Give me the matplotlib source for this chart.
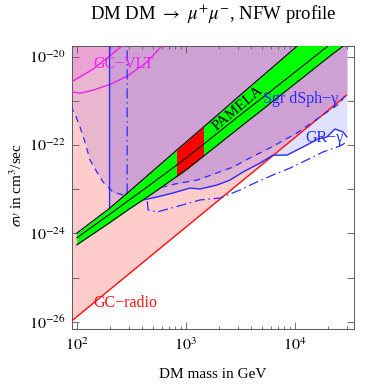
import numpy as np
import matplotlib
matplotlib.use("Agg")
import matplotlib.pyplot as plt
from matplotlib.ticker import FixedLocator, FuncFormatter, NullLocator

plt.rcParams['font.family'] = ['Liberation Serif', 'DejaVu Serif']
plt.rcParams['mathtext.fontset'] = 'stix'

# ---------------- data ----------------
# GC-radio bound (red line, excluded above)
radio_m = [90, 30000]
radio_sv = [1.05e-26, 1.35e-21]

# GC-VLT bounds (magenta)
vlt_up_m = [88, 141, 261, 355]
vlt_up_sv = [2.6e-21, 5.2e-21, 1.74e-20, 3.2e-20]
vlt_lo_m = [88, 107, 141, 202, 295, 432, 593, 700]
vlt_lo_sv = [1.6e-21, 1.48e-21, 1.74e-21, 2.34e-21, 3.7e-21, 7.2e-21, 1.66e-20, 2.8e-20]

# GR-gamma bound (solid blue)
gr_m = [200, 200, 406, 546, 764, 1094, 1352, 1936, 2547, 3357, 4808, 6324,
        8511, 10500, 11910, 16370, 19770, 23440, 27730, 30130]
gr_sv = [1e-19, 3.05e-24, 5.7e-24, 6.67e-24, 8.2e-24, 1.06e-23, 1.01e-23, 1.24e-23,
         1.61e-23, 2.45e-23, 3.9e-23, 5.9e-23, 5.9e-23, 7.7e-23, 9.0e-23, 1.37e-22,
         1.52e-22, 2.3e-22, 1.97e-22, 1.52e-22]

# Sgr dSph-gamma bound (dashed blue)
sgr_m = [88, 98.6, 107, 119, 132, 153, 174, 215, 266, 308, 557, 798, 1271,
         1936, 2716, 3890, 5930, 10500, 17060, 26060, 30500]
sgr_sv = [7.6e-22, 4.3e-22, 2.55e-22, 1.17e-22, 4.6e-23, 2.45e-23, 1.46e-23,
          8.6e-24, 7.4e-24, 8.2e-24, 1.06e-23, 1.31e-23, 1.61e-23, 2.33e-23,
          3.18e-23, 5.1e-23, 8.6e-23, 1.87e-22, 4.3e-22, 8.9e-22, 1.6e-21]

# second gamma bound (dash-dot blue)
dd_m = [290, 290, 442, 451, 546, 798, 1352, 2065, 3148, 4508, 6324, 9057,
        12970, 18200, 26060, 30130]
dd_sv = [1e-19, 6e-24, 6e-24, 3.4e-24, 3.05e-24, 3.95e-24, 5.7e-24, 6.3e-24,
         9.6e-24, 1.46e-23, 2.1e-23, 3.0e-23, 4.6e-23, 6.95e-23, 9.5e-23, 1.17e-22]

# PAMELA region (green band, central line)
pam_m = [100, 200, 300, 500, 1000, 2000, 3000, 5000, 10000, 20000, 30000]
pam_up = [1.01e-24, 3.7e-24, 8.7e-24, 2.6e-23, 1.15e-22, 5.0e-22, 1.2e-21,
          3.55e-21, 1.55e-20, 6.9e-20, 1.6e-19]
pam_mid = [7.9e-25, 2.7e-24, 5.6e-24, 1.4e-23, 5.0e-23, 1.94e-22, 4.3e-22,
           1.15e-21, 4.4e-21, 1.7e-20, 3.7e-20]
pam_lo = [5.5e-25, 1.74e-24, 3.5e-24, 8.1e-24, 2.7e-23, 1.04e-22, 2.3e-22,
          6.2e-22, 2.4e-21, 9.3e-21, 2.0e-20]
fermi_range = [830, 1450]   # red part of the band

x_ticks = [100, 1000, 10000]
x_tick_labels = [r'$10^{2}$', r'$10^{3}$', r'$10^{4}$']
y_decades = list(range(-26, -19))

TOP = 1e-19
BLUE = '#2a2aff'

# ---------------- figure ----------------
fig = plt.figure(figsize=(3.73, 3.89), dpi=100)
ax = fig.add_axes([72.3 / 373, 1 - 329 / 389, (354 - 72.3) / 373, (329 - 45.7) / 389])
ax.set_xscale('log')
ax.set_yscale('log')

# filled exclusion regions (alpha-blended)
ax.fill_between(radio_m, radio_sv, TOP, color=(1.0, 0.0, 0.0), alpha=0.2, lw=0, zorder=1)
ax.fill_between(gr_m[1:], gr_sv[1:], TOP, color=(0.0, 0.0, 1.0), alpha=0.12, lw=0, zorder=1.1)
ax.fill_between(sgr_m, sgr_sv, TOP, color=(0.3, 0.1, 0.9), alpha=0.12, lw=0, zorder=1.2)
ax.fill_between(vlt_up_m, vlt_up_sv, TOP, color=(1.0, 0.0, 1.0), alpha=0.1, lw=0, zorder=1.3)

# boundary lines
ax.plot(radio_m, radio_sv, color='#ff1010', lw=1.0, zorder=3)
ax.plot(vlt_up_m, vlt_up_sv, color='#f020f0', lw=1.0, zorder=3)
ax.plot(vlt_lo_m, vlt_lo_sv, color='#f020f0', lw=1.0, zorder=3)
ax.plot(gr_m, gr_sv, color=BLUE, lw=1.0, zorder=3)
ax.plot(sgr_m, sgr_sv, color=BLUE, lw=0.9, ls=(0, (5, 4)), zorder=3)
ax.plot(dd_m, dd_sv, color=BLUE, lw=0.9, ls=(0, (8, 3, 1.2, 3)), zorder=3)

# PAMELA band
ax.fill_between(pam_m, pam_lo, pam_up, color='#00ff00', lw=0, zorder=4)
red = ax.fill_between(pam_m, pam_lo, pam_up, color='#ff0000', lw=0, zorder=4.1)
span = ax.axvspan(fermi_range[0], fermi_range[1], alpha=0)
red.set_clip_path(span)
for arr in (pam_up, pam_mid, pam_lo):
    ax.plot(pam_m, arr, color='black', lw=0.8, zorder=5)

# labels
ax.text(141, 6.8e-21, 'GC\u2212VLT', color='#f020f0', fontsize=11.5, va='center', ha='left', zorder=6)
ax.text(5140, 1.1e-21, 'Sgr dSph\u2212\u03b3', color=BLUE, fontsize=11.5, va='center', ha='left', zorder=6)
ax.text(12450, 1.45e-22, 'GR\u2212\u03b3', color=BLUE, fontsize=11.5, va='center', ha='left', zorder=6)
ax.text(141, 2.66e-26, 'GC\u2212radio', color='#ff1010', fontsize=11.5, va='center', ha='left', zorder=6)
ax.text(3020, 6.5e-22, 'PAMELA', color='black', fontsize=11, va='center', ha='center',
        rotation=40, rotation_mode='anchor', zorder=6)

ax.set_xlim(91, 35000)
ax.set_ylim(10 ** -26.163, 10 ** -19.754)

ax.xaxis.set_major_locator(FixedLocator(x_ticks))
ax.xaxis.set_major_formatter(FuncFormatter(lambda v, p: x_tick_labels[x_ticks.index(v)] if v in x_ticks else ''))
minors = [k * 10 ** e for e in range(1, 5) for k in range(2, 10)]
ax.xaxis.set_minor_locator(FixedLocator(minors))
ax.xaxis.set_minor_formatter(FuncFormatter(lambda v, p: ''))

ax.yaxis.set_major_locator(FixedLocator([10.0 ** d for d in y_decades]))
ax.yaxis.set_major_formatter(FuncFormatter(
    lambda v, p: (r'$10^{%d}$' % int(round(np.log10(v)))) if int(round(np.log10(v))) % 2 == 0 else ''))
ax.yaxis.set_minor_locator(NullLocator())

ax.tick_params(which='both', direction='in', top=True, right=True, color='0.35',
               labelsize=11.5, width=0.6)
ax.tick_params(which='major', length=5)
ax.tick_params(which='minor', length=2.5)
ax.tick_params(axis='x', pad=6)
ax.tick_params(axis='y', pad=5)
for s in ax.spines.values():
    s.set_color('0.35')
    s.set_linewidth(0.7)

fig.text(213 / 373, 1 - 14 / 389, r'DM DM $\rightarrow$ $\mu^{+}\mu^{-}$, NFW profile',
         ha='center', va='center', fontsize=13.5)
fig.text(213 / 373, 1 - 375 / 389, 'DM mass in GeV', ha='center', va='center', fontsize=11)
fig.text(17 / 373, 1 - 185 / 389, r'$\sigma v$ in cm$^3$/sec', ha='center', va='center',
         rotation=90, fontsize=11)

fig.savefig('out.png', dpi=100)
